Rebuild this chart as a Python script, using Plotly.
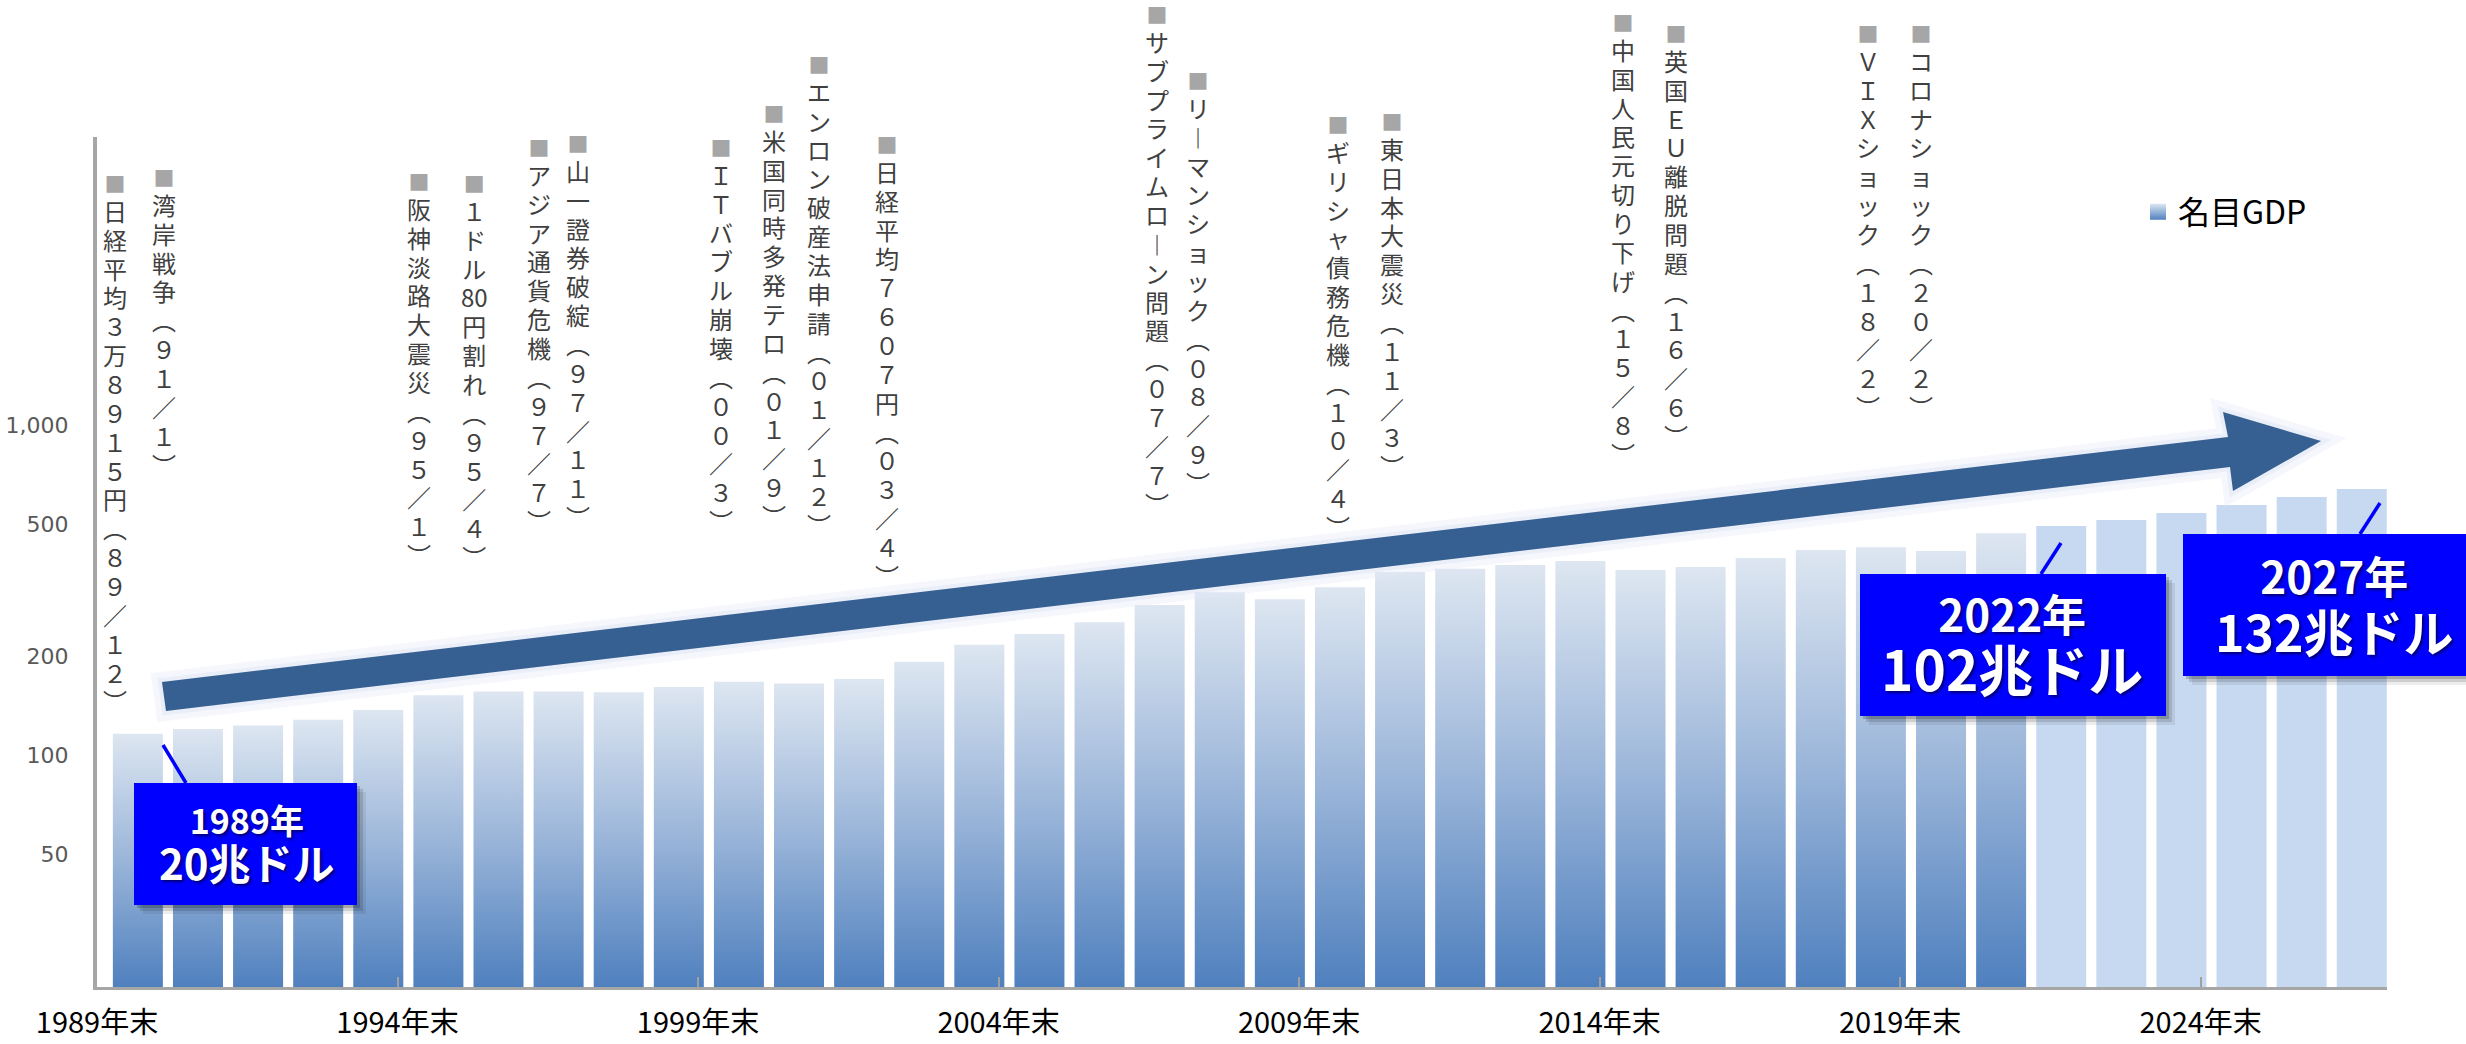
import re
import plotly.graph_objects as go

# ---------------- data ----------------
YEARS = list(range(1990, 2028))
GDP = [116, 120, 123, 128, 137, 152, 156, 156, 155, 161,
       167, 165, 170, 192, 216, 233, 253, 285, 312, 297,
       323, 359, 367, 377, 388, 364, 372, 396, 419, 427,
       416, 471, 495, 516, 542, 573, 606, 641]
FORECAST_FROM = 2022
TICK_YEARS = [1989, 1994, 1999, 2004, 2009, 2014, 2019, 2024]
TICK_LABELS = [f"{y}年末" for y in TICK_YEARS]
Y_TICKS = [50, 100, 200, 500, 1000]
Y_TICK_LABELS = ["50", "100", "200", "500", "1,000"]
SERIES_NAME = "名目GDP"

EVENTS = [
    "日経平均３万８９１５円（８９／１２）",
    "湾岸戦争（９１／１）",
    "阪神淡路大震災（９５／１）",
    "１ドル80円割れ（９５／４）",
    "アジア通貨危機（９７／７）",
    "山一證券破綻（９７／１１）",
    "ＩＴバブル崩壊（００／３）",
    "米国同時多発テロ（０１／９）",
    "エンロン破産法申請（０１／１２）",
    "日経平均７６０７円（０３／４）",
    "サブプライムローン問題（０７／７）",
    "リーマンショック（０８／９）",
    "ギリシャ債務危機（１０／４）",
    "東日本大震災（１１／３）",
    "中国人民元切り下げ（１５／８）",
    "英国ＥＵ離脱問題（１６／６）",
    "ＶＩＸショック（１８／２）",
    "コロナショック（２０／２）",
]
CALLOUTS = [("1989年", "20兆ドル"), ("2022年", "102兆ドル"), ("2027年", "132兆ドル")]

# ---------------- layout constants ----------------
W, H = 2466, 1044
L, R, T, B = 97, 2387, 137, 987
X_RANGE = [-0.68, 37.42]
Y_RANGE = [1.297, 3.874]
TICK_OFFSET = 0.32
BAR_HALF = 0.416
FONT_JP = "Noto Sans CJK JP"

# label columns (x in category units, top of ■ in px)
EVENT_X = [-0.38, 0.43, 4.67, 5.60, 6.67, 7.33, 9.70, 10.58, 11.33, 12.47,
           16.95, 17.63, 19.97, 20.87, 24.71, 25.59, 28.79, 29.67]
EVENT_TOP = [183, 177, 181, 183, 147, 143, 147, 113, 64, 144,
             14, 80, 124, 121, 22, 33, 33, 33]
EVENT_SHIFT = 17


def fx(X):
    return (X - L) / (R - L)


def fy(Y):
    return (B - Y) / (B - T)


VERT = {"（": "︵", "）": "︶", "ー": "︱"}


def tate(text):
    toks = re.findall(r"[0-9]+|.", text)
    return [VERT.get(t, t) for t in toks]


fig = go.Figure()

base = 10 ** Y_RANGE[0]

# historical bars with per-bar vertical gradient
for i, (yr, v) in enumerate(zip(YEARS, GDP)):
    if yr >= FORECAST_FROM:
        continue
    fig.add_trace(go.Scatter(
        x=[i - BAR_HALF, i + BAR_HALF, i + BAR_HALF, i - BAR_HALF, i - BAR_HALF],
        y=[base, base, v, v, base],
        mode="lines", fill="toself", line=dict(width=0),
        fillgradient=dict(type="vertical",
                          colorscale=[[0, "#4F80BE"], [0.5, "#9AB5D9"], [1, "#DDE6F1"]]),
        hoverinfo="skip", showlegend=False))

# forecast bars
fc_idx = [i for i, yr in enumerate(YEARS) if yr >= FORECAST_FROM]
fig.add_trace(go.Bar(
    x=fc_idx, y=[GDP[i] for i in fc_idx], width=2 * BAR_HALF,
    marker=dict(color="#C6D9F0", line=dict(width=0)),
    showlegend=False, hoverinfo="skip"))

# legend entry
fig.add_trace(go.Scatter(
    x=[None], y=[None], mode="markers", name=SERIES_NAME,
    marker=dict(symbol="square", size=20, color="#DCE6F2",
                gradient=dict(type="vertical", color="#4F81BD"))))

shapes = []
annotations = []

# big arrow
arrow_pts = [(162, 682), (2228, 437), (2223, 412), (2321, 441),
             (2233, 491), (2230, 467), (166, 711)]
path = "M " + " L ".join(f"{fx(x):.5f},{fy(y):.5f}" for x, y in arrow_pts) + " Z"
shapes.append(dict(type="path", path=path, xref="paper", yref="paper",
                   fillcolor="rgba(225,233,245,0.35)",
                   line=dict(color="rgba(225,233,245,0.35)", width=20), layer="above"))
shapes.append(dict(type="path", path=path, xref="paper", yref="paper",
                   fillcolor="rgba(215,226,242,0.4)",
                   line=dict(color="rgba(215,226,242,0.4)", width=8), layer="above"))
shapes.append(dict(type="path", path=path, xref="paper", yref="paper",
                   fillcolor="#376092", line=dict(width=0), layer="above"))

# callout boxes: rect, connector, (center x, center y, line spacing, size1, size2)
boxes = [(134, 783, 357, 905), (1860, 574, 2166, 716), (2183, 534, 2480, 676)]
connectors = [((163, 745), (186, 783)), ((2041, 574), (2061, 543)), ((2360, 534), (2380, 503))]
text_fmt = [(247, 843, 46, 34, 42), (2012, 644, 59, 44, 55), (2334, 604, 58, 44, 50)]
for (x0, y0, x1, y1), ((cx0, cy0), (cx1, cy1)), (l1, l2), (tx, ty, sp, s1, s2) in zip(
        boxes, connectors, CALLOUTS, text_fmt):
    shapes.append(dict(type="line", xref="paper", yref="paper",
                       x0=fx(cx0), y0=fy(cy0), x1=fx(cx1), y1=fy(cy1),
                       line=dict(color="#0000FF", width=3.5), layer="above"))
    for off, col in [(9, "rgba(0,0,0,0.07)"), (6, "rgba(0,0,0,0.13)"), (3, "rgba(0,0,0,0.18)")]:
        shapes.append(dict(type="rect", xref="paper", yref="paper",
                           x0=fx(x0 + off), x1=fx(x1 + off), y0=fy(y0 + off), y1=fy(y1 + off),
                           fillcolor=col, line=dict(width=0), layer="above"))
    shapes.append(dict(type="rect", xref="paper", yref="paper",
                       x0=fx(x0), x1=fx(x1), y0=fy(y0), y1=fy(y1),
                       fillcolor="#0000FF", line=dict(width=0), layer="above"))
    annotations.append(dict(
        text=(f'<span style="font-size:{s1}px">{l1}</span><br>'
              f'<span style="font-size:{s2}px">{l2}</span>'),
        x=fx(tx), y=fy(ty), xref="paper", yref="paper",
        xanchor="center", yanchor="middle", showarrow=False, align="center",
        font=dict(family=FONT_JP, size=sp / 1.3, color="white", weight="bold",
                  shadow="2px 2px 3px rgba(0,0,0,0.55)")))

# vertical event labels
for txt, ex, top in zip(EVENTS, EVENT_X, EVENT_TOP):
    chars = tate(txt)
    label = ('<span style="font-size:21px;color:#A6A6A6">■</span><br>'
             '<span style="font-size:24px">' + "<br>".join(chars) + "</span>")
    annotations.append(dict(
        text=label, x=ex, y=fy(top - EVENT_SHIFT), xref="x", yref="paper",
        xanchor="center", yanchor="top", showarrow=False, align="center",
        font=dict(family=FONT_JP, size=22.2, color="#404040")))

tickvals = [(y - YEARS[0]) + TICK_OFFSET for y in TICK_YEARS]

fig.update_layout(
    width=W, height=H,
    margin=dict(l=L, r=W - R, t=T, b=H - B, pad=0, autoexpand=False),
    paper_bgcolor="white", plot_bgcolor="white",
    barmode="overlay",
    showlegend=True,
    legend=dict(x=fx(2138), y=fy(212), xanchor="left", yanchor="middle",
                font=dict(family=FONT_JP, size=32, color="black"),
                bgcolor="rgba(0,0,0,0)", itemsizing="trace"),
    xaxis=dict(range=X_RANGE, showgrid=False, zeroline=False, automargin=False,
               tickmode="array", tickvals=tickvals, ticktext=TICK_LABELS,
               ticks="inside", ticklen=10, tickwidth=2, tickcolor="#A0A0A0",
               showline=True, linecolor="#A6A6A6", linewidth=3,
               ticklabelstandoff=8,
               tickfont=dict(family=FONT_JP, size=29, color="black")),
    yaxis=dict(type="log", range=Y_RANGE, showgrid=False, zeroline=False, automargin=False,
               tickmode="array", tickvals=Y_TICKS, ticktext=Y_TICK_LABELS,
               ticks="", showline=True, linecolor="#A6A6A6", linewidth=4,
               ticklabelstandoff=20,
               tickfont=dict(family="DejaVu Sans", size=22, color="#595959")),
    shapes=shapes, annotations=annotations,
)

fig.write_html("out.html")
